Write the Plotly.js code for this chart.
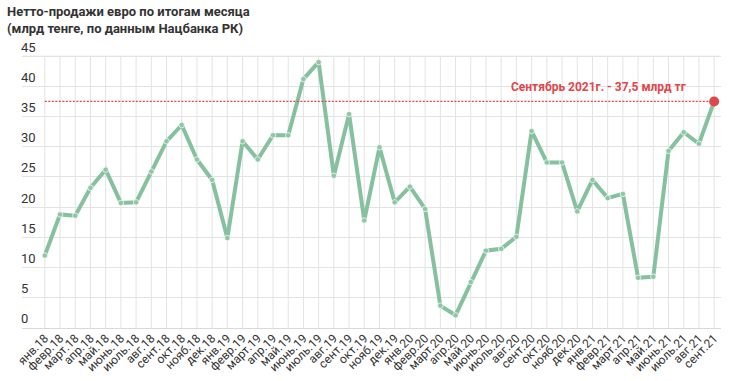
<!DOCTYPE html>
<html>
<head>
<meta charset="utf-8">
<script src="https://cdn.plot.ly/plotly-3.0.1.min.js"></script>
<style>html,body{margin:0;padding:0;background:#fff;}#chart{width:730px;height:381px;}</style>
</head>
<body>
<div id="chart"></div>
<script>
const months = ["янв.18","февр.18","март.18","апр.18","май.18","июнь.18","июль.18","авг.18","сент.18","окт.18","нояб.18","дек.18",
"янв.19","февр.19","март.19","апр.19","май.19","июнь.19","июль.19","авг.19","сент.19","окт.19","нояб.19","дек.19",
"янв.20","февр.20","март.20","апр.20","май.20","июнь.20","июль.20","авг.20","сент.20","окт.20","нояб.20","дек.20",
"янв.21","февр.21","март.21","апр.21","май.21","июнь.21","июль.21","авг.21","сент.21"];
const netSales = [12.0,18.8,18.6,23.2,26.2,20.7,20.8,25.9,30.9,33.6,27.9,24.5,
14.9,30.9,27.9,31.9,31.9,41.2,44.0,25.2,35.4,17.8,29.9,20.8,
23.4,19.7,3.7,2.1,7.6,12.8,13.1,15.1,32.6,27.4,27.4,19.3,
24.5,21.5,22.2,8.3,8.5,29.3,32.4,30.5,37.5];
const refLevel = 37.5;
const yTicks = [0,5,10,15,20,25,30,35,40,45];
const yMax = 45;
const titleLines = ["Нетто-продажи евро по итогам месяца","(млрд тенге, по данным Нацбанка РК)"];
const noteText = "Сентябрь 2021г. - 37,5 млрд тг";

const lastIdx = months.length - 1;
const green = '#86c19f';
const red = '#e0474c';
const gridCol = '#e3e3e3';

const traces = [
  {
    x: months, y: netSales, type: 'scatter', mode: 'lines+markers',
    line: {color: green, width: 4},
    marker: {size: 5.5, color: '#8fc7a6', line: {color: 'rgba(255,255,255,0.7)', width: 1}},
    hoverinfo: 'x+y', showlegend: false
  },
  {
    x: [months[lastIdx]], y: [netSales[lastIdx]], type: 'scatter', mode: 'markers',
    marker: {size: 10, color: red}, showlegend: false, hoverinfo: 'skip'
  }
];

// vertical grid lines from 0 to the top tick, one per month
const vGrid = months.map(m => ({
  type: 'line', xref: 'x', yref: 'y', x0: m, x1: m, y0: 0, y1: yMax,
  line: {color: gridCol, width: 1}, layer: 'below'
}));
// top horizontal grid line
const topGrid = {
  type: 'line', xref: 'paper', yref: 'y', x0: 0, x1: 1, y0: yMax, y1: yMax,
  line: {color: gridCol, width: 1}, layer: 'below'
};

const layout = {
  width: 730, height: 381,
  margin: {l: 22, r: 9, t: 38, b: 53},
  paper_bgcolor: '#fff', plot_bgcolor: '#fff',
  font: {family: 'Roboto, "Noto Sans", sans-serif', color: '#333'},
  xaxis: {
    type: 'category', categoryorder: 'array', categoryarray: months,
    range: [-1.5, lastIdx + 0.45],
    tickangle: -45, tickfont: {size: 12, color: '#333'},
    showgrid: false,
    ticks: '', showline: false, zeroline: false, fixedrange: true
  },
  yaxis: {
    range: [0, yMax + 3], tickvals: yTicks, ticktext: yTicks.map(String),
    ticklabelposition: 'inside top', ticklabelstandoff: -4,
    tickfont: {size: 13, color: '#333'},
    showgrid: true, gridcolor: gridCol, gridwidth: 1,
    zeroline: true, zerolinecolor: '#d9d9d9', zerolinewidth: 1,
    showline: false, ticks: '', fixedrange: true
  },
  shapes: vGrid.concat([topGrid, {
    type: 'line', xref: 'x', yref: 'y',
    x0: months[0], x1: months[lastIdx], y0: refLevel, y1: refLevel,
    line: {color: red, width: 1.2, dash: '2px,1.5px'}, layer: 'above'
  }]),
  annotations: [
    {
      xref: 'paper', yref: 'paper', x: -17/699, y: 1 + 38/290, xanchor: 'left', yanchor: 'top', yshift: -2,
      text: '<b>' + titleLines[0] + '</b>', showarrow: false, align: 'left',
      font: {size: 13, color: '#333', family: 'Roboto, sans-serif'}
    },
    {
      xref: 'paper', yref: 'paper', x: -17/699, y: 1 + 38/290, xanchor: 'left', yanchor: 'top', yshift: -19,
      text: '<b>' + titleLines[1] + '</b>', showarrow: false, align: 'left',
      font: {size: 13, color: '#333', family: 'Roboto, sans-serif'}
    },
    {
      xref: 'x', yref: 'y', x: months[lastIdx], y: refLevel,
      xanchor: 'right', yanchor: 'bottom', xshift: -26, yshift: 5,
      text: '<b>' + noteText + '</b>', showarrow: false,
      font: {size: 12, color: red, family: 'Roboto, sans-serif'}
    }
  ]
};

Plotly.newPlot('chart', traces, layout, {displayModeBar: false, staticPlot: true});
</script>
</body>
</html>
